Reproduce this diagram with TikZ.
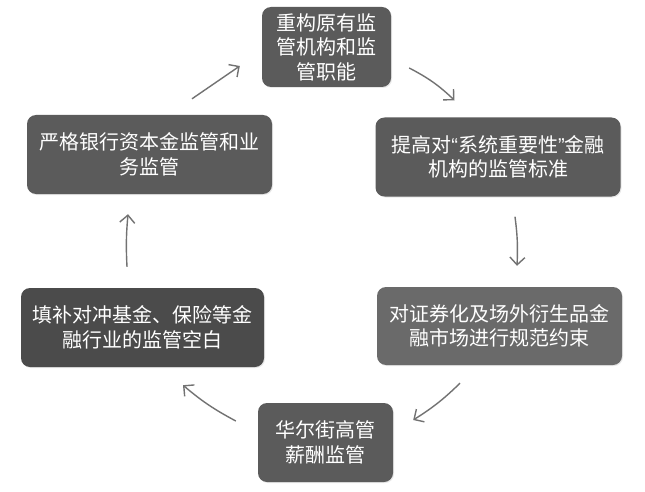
\documentclass[tikz,border=0pt]{standalone}
\usepackage{fontspec}
\setmainfont{Noto Sans CJK SC}
\newfontfamily\latinq{Liberation Sans}
\usepackage{xcolor}
\usepackage{tikz}
\usetikzlibrary{arrows.meta, shadows}

\definecolor{boxgray}{HTML}{5B5B5B}
\definecolor{boxdark}{HTML}{4B4B4B}
\definecolor{boxlight}{HTML}{6A6A6A}
\definecolor{arrgray}{HTML}{727272}

\begin{document}
\begin{tikzpicture}[x=1pt, y=-1pt,
			>={Straight Barb[length=7.5pt, width=15pt]},
			box/.style={draw=none, fill=boxgray, rounded corners=9pt, inner sep=0pt,
				text=white, align=center, font=\fontsize{20}{24.5}\selectfont,
				drop shadow={opacity=0.18, shadow xshift=1pt, shadow yshift=-1pt}},
			arr/.style={->, draw=arrgray, line width=1.4pt}]
			
			\fill[white] (0,0) rectangle (645,492);
			\useasboundingbox (0,0) rectangle (645,492);
			
			% boxes
			\node (reform) [box, minimum width=129pt, minimum height=80pt] at (326.5,47) {重构原有监\\管机构和监\\管职能};
			\node (sifi) [box, minimum width=245pt, minimum height=79pt] at (498,157) {提高对{\latinq “}系统重要性{\latinq ”}金融\\机构的监管标准};
			\node (deriv) [box, fill=boxlight, minimum width=245pt, minimum height=78pt] at (499.5,326) {对证券化及场外衍生品金\\融市场进行规范约束};
			\node (pay) [box, minimum width=135pt, minimum height=79pt] at (325.5,442.5) {华尔街高管\\薪酬监管};
			\node (hedge) [box, fill=boxdark, minimum width=243pt, minimum height=79pt] at (142.5,327.5) {填补对冲基金、保险等金\\融行业的监管空白};
			\node (capital) [box, minimum width=245pt, minimum height=79pt] at (149.5,154.5) {严格银行资本金监管和业\\务监管};
			
			% arrows
			\draw[arr] ([shift={(42.5,-16)}]capital.north) -- ([shift={(-22,19)}]reform.west);
			\draw[arr] ([shift={(18,21)}]reform.east) to[bend left=8] ([shift={(-43.5,-17)}]sifi.north);
			\draw[arr] ([shift={(17,20)}]sifi.south) to[bend left=5] ([shift={(17.5,-21)}]deriv.north);
			\draw[arr] ([shift={(-39.5,18)}]deriv.south) to[bend left=6] ([shift={(20,-22.5)}]pay.east);
			\draw[arr] ([shift={(-22,-21.5)}]pay.west) to[bend left=6] ([shift={(40.5,18)}]hedge.south);
			\draw[arr] ([shift={(-15.5,-21)}]hedge.north) to[bend left=4] ([shift={(-21.5,20)}]capital.south);
		\end{tikzpicture}
\end{document}
